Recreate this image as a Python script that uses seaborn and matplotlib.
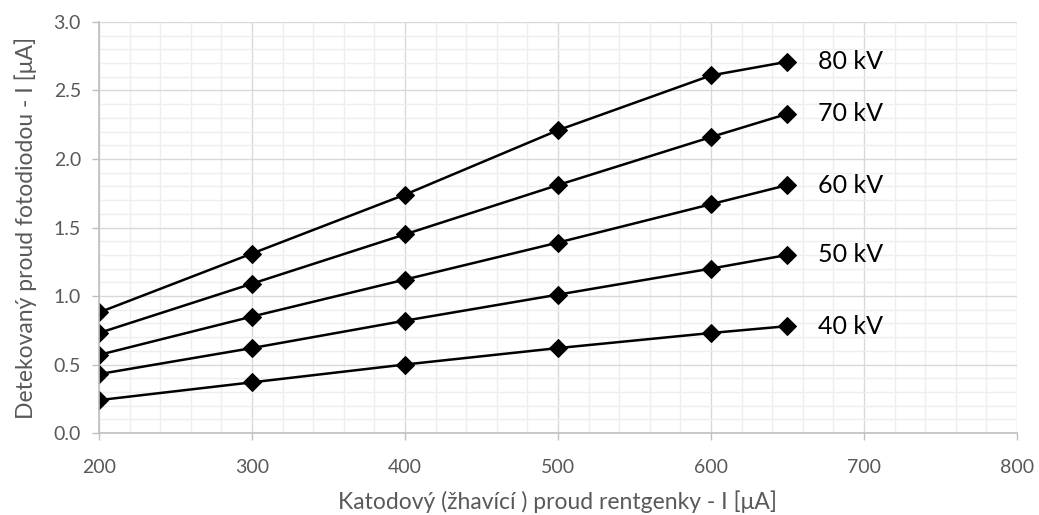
import matplotlib
matplotlib.use("Agg")
import matplotlib.pyplot as plt
import seaborn as sns
import pandas as pd
from matplotlib.ticker import MultipleLocator

x_vals = [200, 300, 400, 500, 600, 650]
kv_40 = [0.24, 0.37, 0.50, 0.62, 0.73, 0.78]
kv_50 = [0.43, 0.62, 0.82, 1.01, 1.20, 1.30]
kv_60 = [0.57, 0.85, 1.12, 1.39, 1.67, 1.81]
kv_70 = [0.73, 1.09, 1.45, 1.81, 2.16, 2.33]
kv_80 = [0.88, 1.31, 1.74, 2.21, 2.61, 2.71]
series_names = ["40 kV", "50 kV", "60 kV", "70 kV", "80 kV"]
series_vals = [kv_40, kv_50, kv_60, kv_70, kv_80]

xlabel = "Katodový (žhavící ) proud rentgenky - I [μA]"
ylabel = "Detekovaný proud fotodiodou - I [μA]"

rows = []
for name, vals in zip(series_names, series_vals):
    for xv, yv in zip(x_vals, vals):
        rows.append({"x": xv, "y": yv, "series": name})
df = pd.DataFrame(rows)

sns.set_theme(style="white")
plt.rcParams['font.family'] = ['Lato', 'DejaVu Sans']

fig = plt.figure(figsize=(10.39, 5.15), dpi=100)
ax = fig.add_axes([0.0953, 0.1592, 0.8835, 0.7981])

sns.lineplot(data=df, x="x", y="y", hue="series", style="series",
             palette=["black"] * 5, markers=["D"] * 5, dashes=False,
             markersize=9, linewidth=1.8, legend=False, ax=ax,
             markeredgecolor="black")

for name, vals in zip(series_names, series_vals):
    ax.text(670, vals[-1], name, fontsize=18, color="black",
            va="center", ha="left")

ax.set_xlim(200, 800)
ax.set_ylim(0, 3.0)
ax.xaxis.set_major_locator(MultipleLocator(100))
ax.xaxis.set_minor_locator(MultipleLocator(20))
ax.yaxis.set_major_locator(MultipleLocator(0.5))
ax.yaxis.set_minor_locator(MultipleLocator(0.1))
ax.yaxis.set_major_formatter(matplotlib.ticker.FormatStrFormatter("%.1f"))

ax.grid(which="major", color="#d9d9d9", linewidth=1.0)
ax.grid(which="minor", color="#eeeeee", linewidth=1.0)
ax.set_axisbelow(True)

for s in ["top", "right"]:
    ax.spines[s].set_visible(False)
for s in ["left", "bottom"]:
    ax.spines[s].set_color("#bfbfbf")
    ax.spines[s].set_linewidth(1.2)

ax.tick_params(which="major", axis="both", direction="out", length=5,
               width=1, color="#bfbfbf", labelsize=14, labelcolor="#595959",
               bottom=True, left=True)
ax.tick_params(axis="x", which="major", pad=14)
ax.tick_params(axis="y", which="major", pad=8)
ax.tick_params(which="minor", length=0)

ax.set_xlabel(xlabel, fontsize=16.5, color="#595959", labelpad=10)
ax.set_ylabel(ylabel, fontsize=16.5, color="#595959", labelpad=12)

fig.savefig("out.png", dpi=100)
